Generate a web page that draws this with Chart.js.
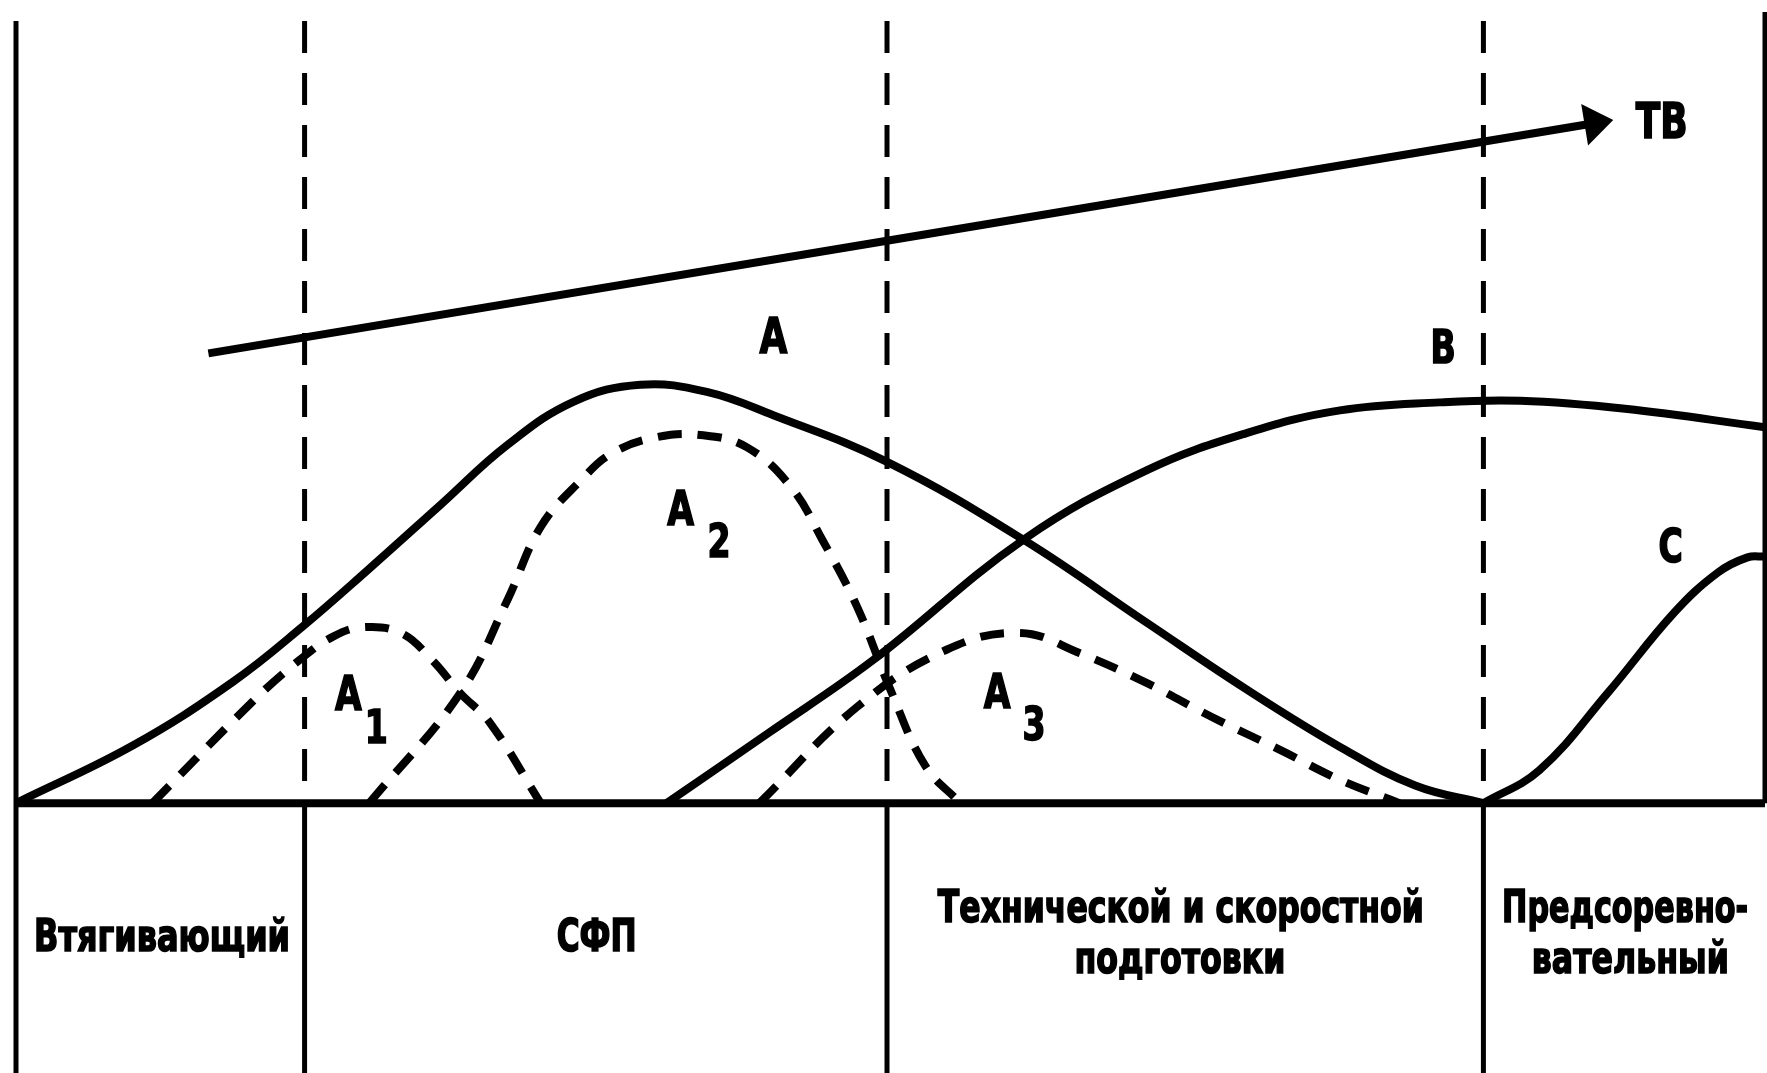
<!DOCTYPE html>
<html lang="ru">
<head>
<meta charset="utf-8">
<script src="https://cdn.jsdelivr.net/npm/chart.js@4.4.1/dist/chart.umd.min.js"></script>
<style>
  html, body { margin: 0; padding: 0; background: #fff; }
  canvas { display: block; }
</style>
</head>
<body>
<canvas id="periodChart" width="1767" height="1073"></canvas>
<script>
// x - time through the macrocycle (0..100), y - level (0 = axis)
const phaseBounds = [16.5, 49.8, 83.9];
const phaseNames = [["Втягивающий"], ["СФП"], ["Технической и скоростной", "подготовки"], ["Предсоревно-", "вательный"]];

// trend of technical skill (TB)
const tbX = [11.0, 89.8];
const tbY = [56.0, 84.5];

// A - general load
const aX = [0, 6.7, 12.4, 16.4, 20.1, 24.2, 28.1, 31.9, 35.7, 39.5, 43.3, 49.8, 57.6, 64.7, 70.4, 75.7, 80.0, 83.9];
const aY = [0, 7.2, 15.1, 22.0, 29.0, 37.0, 44.6, 50.0, 52.1, 51.2, 48.3, 42.5, 32.8, 22.4, 14.1, 7.0, 2.2, 0];

// B
const bX = [37.2, 43.0, 49.0, 57.6, 64.7, 70.4, 75.7, 81.4, 86.0, 92.0, 100];
const bY = [0, 8.7, 17.8, 32.8, 41.5, 46.1, 48.9, 49.9, 50.1, 49.1, 46.8];

// C
const cX = [83.9, 87.1, 91.0, 94.8, 97.3, 99.0, 100];
const cY = [0, 4.1, 13.7, 23.7, 28.7, 30.6, 30.7];

// A1, A2, A3 - components of A
const a1X = [7.8, 13.6, 16.2, 18.1, 19.8, 22.0, 23.8, 25.4, 27.1, 30.0];
const a1Y = [0, 12.8, 17.8, 20.7, 21.9, 21.2, 17.8, 13.7, 10.0, 0];

const a2X = [20.2, 25.4, 28.1, 30.0, 32.3, 34.1, 36.7, 39.3, 41.8, 44.3, 46.1, 48.1, 50.0, 52.0, 54.0];
const a2Y = [0, 13.7, 25.3, 34.4, 40.2, 43.6, 45.6, 45.8, 44.3, 39.4, 32.8, 24.4, 14.1, 4.6, 0];

const a3X = [42.5, 48.1, 53.2, 57.4, 60.8, 64.7, 68.4, 72.3, 75.7, 79.1];
const a3Y = [0, 12.0, 19.1, 21.2, 18.7, 14.9, 10.7, 6.6, 2.9, 0];

function toPoints(xs, ys) {
  return xs.map((v, i) => ({ x: v, y: ys[i] }));
}

function solid(label, xs, ys) {
  return {
    label: label,
    data: toPoints(xs, ys),
    borderColor: '#000',
    borderWidth: 8,
    pointRadius: 0,
    tension: 0.4,
    borderCapStyle: 'butt'
  };
}

function dashed(label, xs, ys) {
  const ds = solid(label, xs, ys);
  ds.borderDash = [24, 16];
  return ds;
}

const FONT = '"Liberation Sans Narrow", "DejaVu Sans Condensed", "Open Sans", sans-serif';

// letters on the curves (in data units)
const curveLabels = [
  { text: 'A', x: 43.3, y: 56.0, size: 50 },
  { text: 'B', x: 81.6, y: 54.8, size: 46 },
  { text: 'C', x: 94.6, y: 30.0, size: 46 },
  { text: 'A', x: 19.0, y: 11.6, size: 48 },
  { text: '1', x: 20.6, y: 7.5, size: 46 },
  { text: 'A', x: 38.0, y: 34.6, size: 48 },
  { text: '2', x: 40.2, y: 30.6, size: 46 },
  { text: 'A', x: 56.1, y: 11.8, size: 48 },
  { text: '3', x: 58.2, y: 7.85, size: 46 },
  { text: 'ТВ', x: 94.1, y: 82.8, size: 50 }
];

// phase captions under the axis: centre, baseline and width to fit
const phaseCaptionPos = [
  [{ x: 8.35, y: -18.4, w: 256 }],
  [{ x: 33.2, y: -18.4, w: 80 }],
  [{ x: 66.6, y: -14.8, w: 486 }, { x: 66.55, y: -21.2, w: 211 }],
  [{ x: 92.0, y: -14.8, w: 246 }, { x: 92.3, y: -21.2, w: 197 }]
];

function line(ctx, x1, y1, x2, y2) {
  ctx.beginPath();
  ctx.moveTo(x1, y1);
  ctx.lineTo(x2, y2);
  ctx.stroke();
}

// heavy condensed text: squeeze horizontally and thicken a little
function boldText(ctx, txt, px, py, sx) {
  ctx.save();
  ctx.translate(px, py);
  ctx.scale(sx, 1);
  ctx.fillText(txt, 0, 0);
  ctx.strokeText(txt, 0, 0);
  ctx.restore();
}

const schemePlugin = {
  id: 'scheme',
  beforeDatasetsDraw(chart) {
    const { ctx, scales: { x, y } } = chart;
    const base = y.getPixelForValue(0);
    const top = y.getPixelForValue(97.4);
    const bottom = y.getPixelForValue(y.min);
    ctx.save();
    ctx.strokeStyle = '#000';
    ctx.lineCap = 'butt';
    ctx.lineWidth = 5;
    line(ctx, x.getPixelForValue(0), top, x.getPixelForValue(0), bottom);
    line(ctx, x.getPixelForValue(100), y.getPixelForValue(98.5), x.getPixelForValue(100), base);
    phaseBounds.forEach(b => {
      const px = x.getPixelForValue(b);
      ctx.setLineDash([32, 20]);
      line(ctx, px, top, px, base);
      ctx.setLineDash([]);
      line(ctx, px, base, px, bottom);
    });
    ctx.lineWidth = 8;
    line(ctx, x.getPixelForValue(0), base, x.getPixelForValue(100), base);
    ctx.restore();
  },
  afterDatasetsDraw(chart) {
    const { ctx, scales: { x, y } } = chart;
    ctx.save();
    ctx.fillStyle = '#000';
    ctx.strokeStyle = '#000';
    ctx.lineWidth = 1.6;

    // arrowhead at the end of TB
    const pts = chart.getDatasetMeta(0).data;
    const p1 = pts[pts.length - 2], p2 = pts[pts.length - 1];
    const ang = Math.atan2(p2.y - p1.y, p2.x - p1.x);
    ctx.save();
    ctx.translate(p2.x, p2.y);
    ctx.rotate(ang);
    ctx.beginPath();
    ctx.moveTo(27, 0);
    ctx.lineTo(-2, -21);
    ctx.lineTo(-2, 21);
    ctx.closePath();
    ctx.fill();
    ctx.restore();

    ctx.textAlign = 'center';
    ctx.textBaseline = 'alphabetic';
    curveLabels.forEach(l => {
      ctx.font = 'bold ' + l.size + 'px ' + FONT;
      boldText(ctx, l.text, x.getPixelForValue(l.x), y.getPixelForValue(l.y), 0.8);
    });

    ctx.font = 'bold 44px ' + FONT;
    phaseNames.forEach((lines, i) => {
      lines.forEach((txt, j) => {
        const p = phaseCaptionPos[i][j];
        const w = ctx.measureText(txt).width;
        boldText(ctx, txt, x.getPixelForValue(p.x), y.getPixelForValue(p.y), p.w / w);
      });
    });
    ctx.restore();
  }
};

new Chart(document.getElementById('periodChart'), {
  type: 'line',
  data: {
    datasets: [
      solid('TB', tbX, tbY),
      solid('A', aX, aY),
      solid('B', bX, bY),
      solid('C', cX, cY),
      dashed('A1', a1X, a1Y),
      dashed('A2', a2X, a2Y),
      dashed('A3', a3X, a3Y)
    ]
  },
  options: {
    responsive: false,
    animation: false,
    devicePixelRatio: 1,
    layout: { padding: { left: 16, right: 2, top: 0, bottom: 0 } },
    scales: {
      x: { type: 'linear', min: 0, max: 100, display: false },
      y: { min: -33.6, max: 100, display: false }
    },
    plugins: {
      legend: { display: false },
      tooltip: { enabled: false }
    }
  },
  plugins: [schemePlugin]
});
</script>
</body>
</html>
